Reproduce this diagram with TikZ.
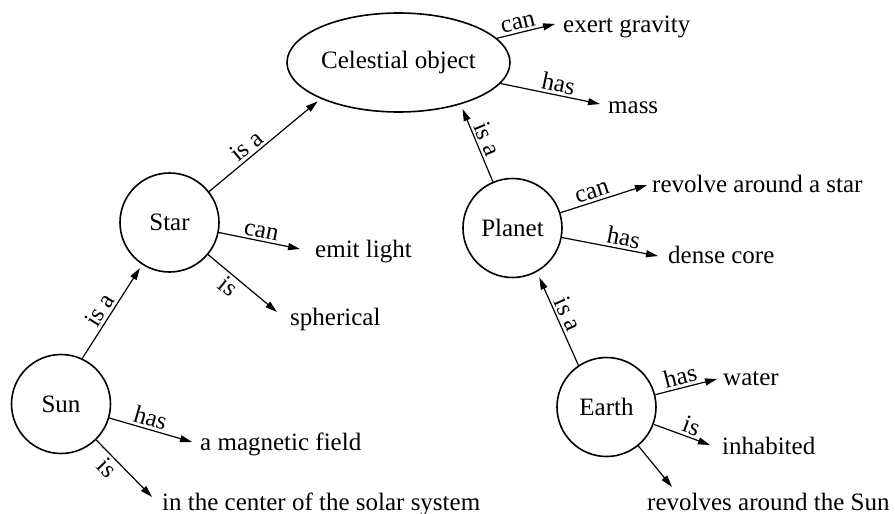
\documentclass[tikz,border=0pt]{standalone}
\usepackage{fontspec}
\setmainfont{Liberation Serif}
\newfontfamily\tnr{Liberation Serif}
\usetikzlibrary{shapes.geometric,arrows.meta}
\begin{document}
\begin{tikzpicture}[x=1pt,y=-1pt,
  every node/.style={font=\tnr\fontsize{25}{30}\selectfont},
  concept/.style={draw, circle, line width=1.6pt, minimum size=99pt, inner sep=0pt},
  rel/.style={line width=1.2pt, -{Triangle[length=12pt,width=7pt]}},
  lbl/.style={sloped, inner sep=2.5pt, font=\tnr\fontsize{25}{28}\selectfont},
  attr/.style={anchor=base west, inner sep=0pt}]
\useasboundingbox (0,0) rectangle (895,514);
% concepts
\node[draw, ellipse, line width=1.6pt, minimum width=223pt, minimum height=99pt, inner sep=0pt] (cel) at (398.5,62.5) {Celestial object};
\node[concept] (star) at (169.5,222.5) {Star};
\node[concept] (sun) at (61,404) {Sun};
\node[concept] (planet) at (512.5,228) {Planet};
\node[concept] (earth) at (606.5,407) {Earth};
% attribute texts
\node[attr] (grav) at (563,32) {exert gravity};
\node[attr] (mass) at (608,113) {mass};
\node[attr] (revstar) at (652,192) {revolve around a star};
\node[attr] (core) at (668,263) {dense core};
\node[attr] (water) at (723,385) {water};
\node[attr] (inhab) at (722,454) {inhabited};
\node[attr] (revsun) at (647,510) {revolves around the Sun};
\node[attr] (light) at (315,257) {emit light};
\node[attr] (spher) at (290,325) {spherical};
\node[attr] (magnet) at (200,450) {a magnetic field};
\node[attr] (centr) at (162,510) {in the center of the solar system};
% arrow tips
\coordinate (tg) at (555,24);
\coordinate (tm) at (600,104);
\coordinate (trs) at (647,185);
\coordinate (tc) at (658,256);
\coordinate (tw) at (717,379);
\coordinate (ti) at (710,445);
\coordinate (tsun) at (672,487);
\coordinate (tl) at (300,249);
\coordinate (tsp) at (277,312);
\coordinate (tmf) at (192,442);
\coordinate (tcen) at (152,497);
% is-a edges
\draw[rel, shorten >=4pt] (sun.65) -- node[lbl,above,pos=0.45]{is a} (star.237);
\draw[rel, shorten >=4pt] (star.38) -- node[lbl,above,pos=0.4]{is a} (cel.205);
\draw[rel, shorten >=5pt] (planet.113) -- node[lbl,above,pos=0.5]{is a} (cel.-34.5);
\draw[rel, shorten >=6pt] (earth.124) -- node[lbl,above,pos=0.5]{is a} (planet.-61);
% attribute edges
\draw[rel] (cel) -- node[lbl,above,pos=0.4]{can} (tg);
\draw[rel] (cel) -- node[lbl,above,pos=0.56]{has} (tm);
\draw[rel] (star) -- node[lbl,above,pos=0.5]{can} (tl);
\draw[rel] (star) -- node[lbl,below,pos=0.4]{is} (tsp);
\draw[rel] (sun) -- node[lbl,above,pos=0.46]{has} (tmf);
\draw[rel] (sun) -- node[lbl,below,pos=0.35]{is} (tcen);
\draw[rel] (planet) -- node[lbl,above,pos=0.4]{can} (trs);
\draw[rel] (planet) -- node[lbl,above,pos=0.62]{has} (tc);
\draw[rel] (earth) -- node[lbl,above,pos=0.45]{has} (tw);
\draw[rel] (earth) -- node[lbl,above,pos=0.6]{is} (ti);
\draw[rel] (earth) -- (tsun);
\end{tikzpicture}
\end{document}
